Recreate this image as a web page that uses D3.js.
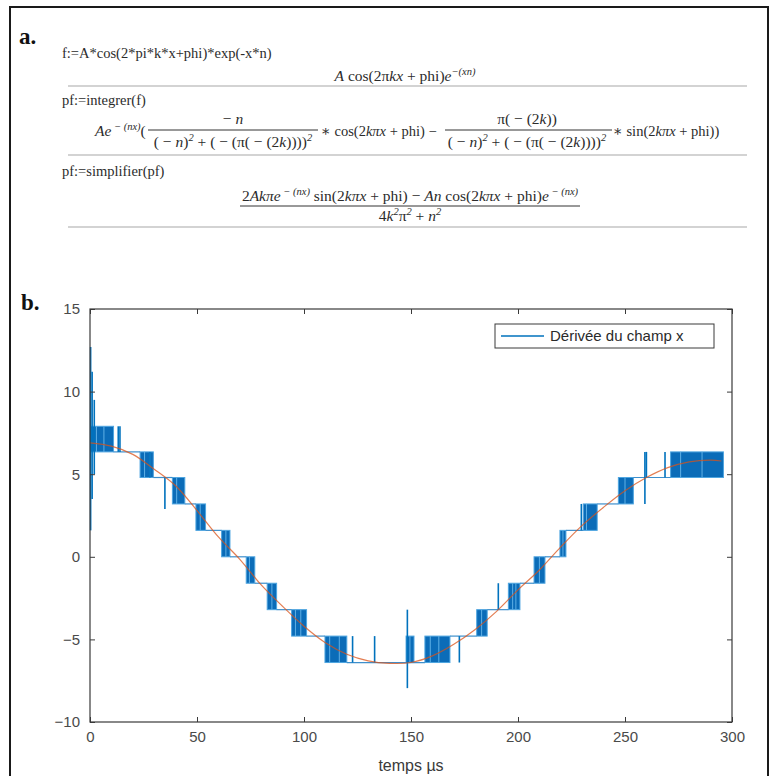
<!DOCTYPE html>
<html>
<head>
<meta charset="utf-8">
<script src="https://cdn.jsdelivr.net/npm/d3@7"></script>
<style>
  body { margin: 0; background: #fff; }
  svg { display: block; }
</style>
</head>
<body>
<div id="container"></div>
<script>
const w = 775;
const h = 776;
const plotL = 90, plotR = 732, plotT = 309, plotB = 722;

// ---- data ----
const xTicks = [0, 50, 100, 150, 200, 250, 300];
const yTicks = [-10, -5, 0, 5, 10, 15];

// blocks where the blue trace toggles fast between two levels: [t0, t1, lo, hi]
const blockT0 = [0.3, 23.4, 38.5, 49.5, 61.5, 73.0, 82.8, 94.2, 109.8, 147.7, 156.5, 180.7, 195.5, 207.5, 219.6, 230.5, 246.9, 271.3];
const blockT1 = [11.0, 29.6, 44.3, 54.0, 65.4, 77.0, 87.2, 101.2, 120.0, 151.4, 168.2, 185.6, 200.9, 212.6, 222.4, 237.0, 253.9, 296.0];
const blockLo = [6.35, 4.8, 3.2, 1.6, 0, -1.6, -3.2, -4.8, -6.4, -6.4, -6.4, -4.8, -3.2, -1.6, 0, 1.6, 3.2, 4.8];
const blockHi = [7.9, 6.35, 4.8, 3.2, 1.6, 0, -1.6, -3.2, -4.8, -4.8, -4.8, -3.2, -1.6, 0, 1.6, 3.2, 4.8, 6.35];

// single spikes of the blue trace: [t, lo, hi]
const spikeT = [0.3, 1.0, 2.0, 13.2, 14.0, 28.0, 35.0, 122.7, 133.0, 148.3, 172.6, 190.8, 229.6, 259.3, 260.0, 268.7];
const spikeLo = [1.6, 3.5, 5.0, 6.35, 6.35, 4.8, 2.9, -6.4, -6.4, -7.95, -6.4, -3.2, 1.6, 3.2, 4.8, 4.8];
const spikeHi = [12.7, 11.2, 9.5, 7.9, 7.9, 6.35, 4.8, -4.8, -4.8, -3.2, -4.8, -1.6, 3.2, 6.35, 6.35, 6.35];

// flat stretches of the blue trace between blocks
const stairT = [11.0, 23.4, 29.6, 38.5, 44.3, 49.5, 54.0, 61.5, 65.4, 73.0, 77.0, 82.8, 87.2, 94.2, 101.2, 109.8, 120.0, 156.5, 168.2, 180.7, 185.6, 195.5, 200.9, 207.5, 212.6, 219.6, 222.4, 230.5, 237.0, 246.9, 253.9, 271.3];
const stairV = [6.35, 6.35, 4.8, 4.8, 3.2, 3.2, 1.6, 1.6, 0, 0, -1.6, -1.6, -3.2, -3.2, -4.8, -4.8, -6.4, -6.4, -4.8, -4.8, -3.2, -3.2, -1.6, -1.6, 0, 0, 1.6, 1.6, 3.2, 3.2, 4.8, 4.8];

// light stripes seen inside the blocks
const stripeT = [3.0, 6.5, 25.5, 28.0, 40.5, 51.5, 63.5, 74.5, 85.0, 96.0, 98.5, 112.0, 116.5, 149.5, 159.0, 163.0, 183.0, 197.5, 199.0, 210.0, 221.0, 232.0, 250.0, 276.0, 286.0];

// smooth orange reference curve
const refT = [0, 10, 20, 30, 40, 50, 60, 70, 80, 90, 100, 110, 120, 130, 140, 150, 160, 170, 180, 190, 200, 210, 220, 230, 240, 250, 260, 270, 280, 290, 295];
const refV = [6.9, 6.7, 6.2, 5.3, 4.3, 2.8, 1.2, -0.15, -1.7, -3.0, -4.2, -5.2, -5.9, -6.3, -6.45, -6.4, -6.0, -5.3, -4.4, -3.3, -2.0, -0.8, 0.6, 1.9, 3.0, 4.0, 4.8, 5.4, 5.75, 5.85, 5.8];

const legendLabel = "Dérivée du champ x";
const xLabel = "temps µs";

const blue = "#0072BD";
const orange = "#D95319";
const axisColor = "#3a3a3a";

const svg = d3.select("#container")
  .append("svg")
  .attr("width", w)
  .attr("height", h);

// outer frame of the figure
svg.append("rect")
  .attr("x", 10).attr("y", 7)
  .attr("width", 758).attr("height", 790)
  .attr("fill", "none")
  .attr("stroke", "#1a1a1a")
  .attr("stroke-width", 2);

// ---------- part a: the formulas ----------
const serif = "'Liberation Serif', 'DejaVu Serif', serif";
const txtColor = "#2b2b2b";
const mathSize = 15.5;

svg.append("text")
  .attr("x", 19).attr("y", 44)
  .attr("font-family", serif).attr("font-weight", "bold")
  .attr("font-size", 23).attr("fill", "#111")
  .text("a.");

function plain(x, y, str) {
  svg.append("text")
    .attr("x", x).attr("y", y)
    .attr("font-family", serif).attr("font-size", 14.5)
    .attr("fill", txtColor)
    .text(str);
}

// pieces: [text, kind]  kind: "n" normal, "i" italic, "s" superscript
function math(x, y, pieces, anchor, size) {
  const t = svg.append("text")
    .attr("x", x).attr("y", y)
    .attr("font-family", serif).attr("font-size", size || mathSize)
    .attr("fill", txtColor)
    .attr("text-anchor", anchor || "start");
  pieces.forEach(([s, k]) => {
    const sp = t.append("tspan").text(s);
    if (k === "i") sp.attr("font-style", "italic");
    if (k === "s") sp.attr("font-size", 10.5).attr("font-style", "italic").attr("baseline-shift", "55%");
  });
}

function bar(x1, x2, y) {
  svg.append("line")
    .attr("x1", x1).attr("x2", x2).attr("y1", y).attr("y2", y)
    .attr("stroke", "#333").attr("stroke-width", 1);
}

function rule(y) {
  svg.append("line")
    .attr("x1", 68).attr("x2", 747).attr("y1", y).attr("y2", y)
    .attr("stroke", "#c4c4c4").attr("stroke-width", 1.5);
}

const denom = [["( − "], ["n", "i"], [")"], ["2", "s"], [" + ( − (π( − (2"], ["k", "i"], ["))))"], ["2", "s"]];

plain(62, 58, "f:=A*cos(2*pi*k*x+phi)*exp(-x*n)");
math(405, 81, [["A", "i"], [" cos(2π"], ["kx", "i"], [" + phi)"], ["e", "i"], ["−(xn)", "s"]], "middle");
rule(86);

plain(62, 105, "pf:=integrer(f)");
math(95, 136, [["Ae", "i"], [" − (nx)", "s"], ["("]]);
math(233, 124, [[" − "], ["n", "i"]], "middle");
bar(148, 318, 130);
math(233, 147, denom, "middle");
math(321, 136, [[" ∗ cos(2"], ["kπx", "i"], [" + phi) −"]], "start", 14.5);
math(527, 124, [["π( − (2"], ["k", "i"], ["))"]], "middle");
bar(445, 612, 130);
math(527, 147, denom, "middle");
math(613, 136, [[" ∗ sin(2"], ["kπx", "i"], [" + phi))"]], "start", 14.5);
rule(155);

plain(62, 176, "pf:=simplifier(pf)");
math(410, 201, [["2"], ["Akπe", "i"], [" − (nx)", "s"], [" sin(2"], ["kπx", "i"], [" + phi) − "], ["An", "i"], [" cos(2"], ["kπx", "i"], [" + phi)"], ["e", "i"], [" − (nx)", "s"]], "middle");
bar(240, 580, 206);
math(410, 221, [["4"], ["k", "i"], ["2", "s"], ["π"], ["2", "s"], [" + "], ["n", "i"], ["2", "s"]], "middle");
rule(227);

// ---------- part b: the chart ----------
svg.append("text")
  .attr("x", 21).attr("y", 310)
  .attr("font-family", serif).attr("font-weight", "bold")
  .attr("font-size", 23).attr("fill", "#111")
  .text("b.");

const xScale = d3.scaleLinear().domain([0, 300]).range([plotL, plotR]);
const yScale = d3.scaleLinear().domain([-10, 15]).range([plotB, plotT]);

const plot = svg.append("g");

// fast toggling blocks
const blocks = blockT0.map((t0, i) => [t0, blockT1[i], blockLo[i], blockHi[i]]);
plot.selectAll("rect.block")
  .data(blocks)
  .enter()
  .append("rect")
  .attr("class", "block")
  .attr("x", d => xScale(d[0]))
  .attr("y", d => yScale(d[3]))
  .attr("width", d => xScale(d[1]) - xScale(d[0]))
  .attr("height", d => yScale(d[2]) - yScale(d[3]))
  .attr("fill", "#0b6cb8")
  .attr("stroke", "#4ea5e0")
  .attr("stroke-width", 1);

// lighter stripes inside blocks, spanning the block that holds them
plot.selectAll("line.stripe")
  .data(stripeT.map(t => [t, blocks.find(b => t >= b[0] && t <= b[1])]).filter(d => d[1]))
  .enter()
  .append("line")
  .attr("class", "stripe")
  .attr("x1", d => xScale(d[0]))
  .attr("x2", d => xScale(d[0]))
  .attr("y1", d => yScale(d[1][2]))
  .attr("y2", d => yScale(d[1][3]))
  .attr("stroke", "#5fb0e6")
  .attr("stroke-width", 1);

// flat stretches
const stairLine = d3.line()
  .x(d => xScale(d[0]))
  .y(d => yScale(d[1]));
const stairs = [];
for (let i = 0; i < stairT.length; i += 2) {
  stairs.push([[stairT[i], stairV[i]], [stairT[i + 1], stairV[i + 1]]]);
}
plot.selectAll("path.stair")
  .data(stairs)
  .enter()
  .append("path")
  .attr("class", "stair")
  .attr("d", stairLine)
  .attr("fill", "none")
  .attr("stroke", "#3d8fcc")
  .attr("stroke-width", 1.2);

// spikes
const spikes = spikeT.map((t, i) => [t, spikeLo[i], spikeHi[i]]);
plot.selectAll("line.spike")
  .data(spikes)
  .enter()
  .append("line")
  .attr("class", "spike")
  .attr("x1", d => xScale(d[0]))
  .attr("x2", d => xScale(d[0]))
  .attr("y1", d => yScale(d[1]))
  .attr("y2", d => yScale(d[2]))
  .attr("stroke", blue)
  .attr("stroke-width", 1.6);

// orange reference curve
const refLine = d3.line()
  .x(d => xScale(d[0]))
  .y(d => yScale(d[1]))
  .curve(d3.curveCatmullRom);
plot.append("path")
  .datum(refT.map((t, i) => [t, refV[i]]))
  .attr("d", refLine)
  .attr("fill", "none")
  .attr("stroke", orange)
  .attr("stroke-opacity", 0.75)
  .attr("stroke-width", 1.2);

// axes, MATLAB style box with inward ticks
const tickFont = "'Liberation Sans', Arial, sans-serif";

function styleAxis(g) {
  g.select(".domain").remove();
  g.selectAll(".tick line").attr("stroke", axisColor);
  g.selectAll(".tick text")
    .attr("fill", "#4a4a4a")
    .attr("font-family", tickFont)
    .attr("font-size", 15);
}

svg.append("g")
  .attr("transform", `translate(0, ${plotB})`)
  .call(d3.axisBottom(xScale).tickValues(xTicks).tickSizeInner(-5).tickSizeOuter(0).tickPadding(9))
  .call(styleAxis);

svg.append("g")
  .attr("transform", `translate(0, ${plotT})`)
  .call(d3.axisTop(xScale).tickValues(xTicks).tickSizeInner(-5).tickSizeOuter(0).tickFormat(""))
  .call(styleAxis);

svg.append("g")
  .attr("transform", `translate(${plotL}, 0)`)
  .call(d3.axisLeft(yScale).tickValues(yTicks).tickSizeInner(-5).tickSizeOuter(0).tickPadding(10))
  .call(styleAxis);

svg.append("g")
  .attr("transform", `translate(${plotR}, 0)`)
  .call(d3.axisRight(yScale).tickValues(yTicks).tickSizeInner(-5).tickSizeOuter(0).tickFormat(""))
  .call(styleAxis);

svg.append("rect")
  .attr("x", plotL).attr("y", plotT)
  .attr("width", plotR - plotL).attr("height", plotB - plotT)
  .attr("fill", "none")
  .attr("stroke", axisColor)
  .attr("stroke-width", 1.2);

svg.append("text")
  .attr("x", (plotL + plotR) / 2)
  .attr("y", 771)
  .attr("text-anchor", "middle")
  .attr("font-family", tickFont)
  .attr("font-size", 16)
  .attr("fill", "#3a3a3a")
  .text(xLabel);

// legend
const legend = svg.append("g").attr("transform", "translate(495, 324)");
legend.append("rect")
  .attr("width", 219).attr("height", 24)
  .attr("fill", "#fff")
  .attr("stroke", axisColor)
  .attr("stroke-width", 1);
legend.append("line")
  .attr("x1", 6).attr("x2", 49).attr("y1", 12).attr("y2", 12)
  .attr("stroke", blue).attr("stroke-width", 1.5);
legend.append("text")
  .attr("x", 55).attr("y", 17)
  .attr("font-family", tickFont)
  .attr("font-size", 15)
  .attr("fill", "#2a2a2a")
  .text(legendLabel);
</script>
</body>
</html>
